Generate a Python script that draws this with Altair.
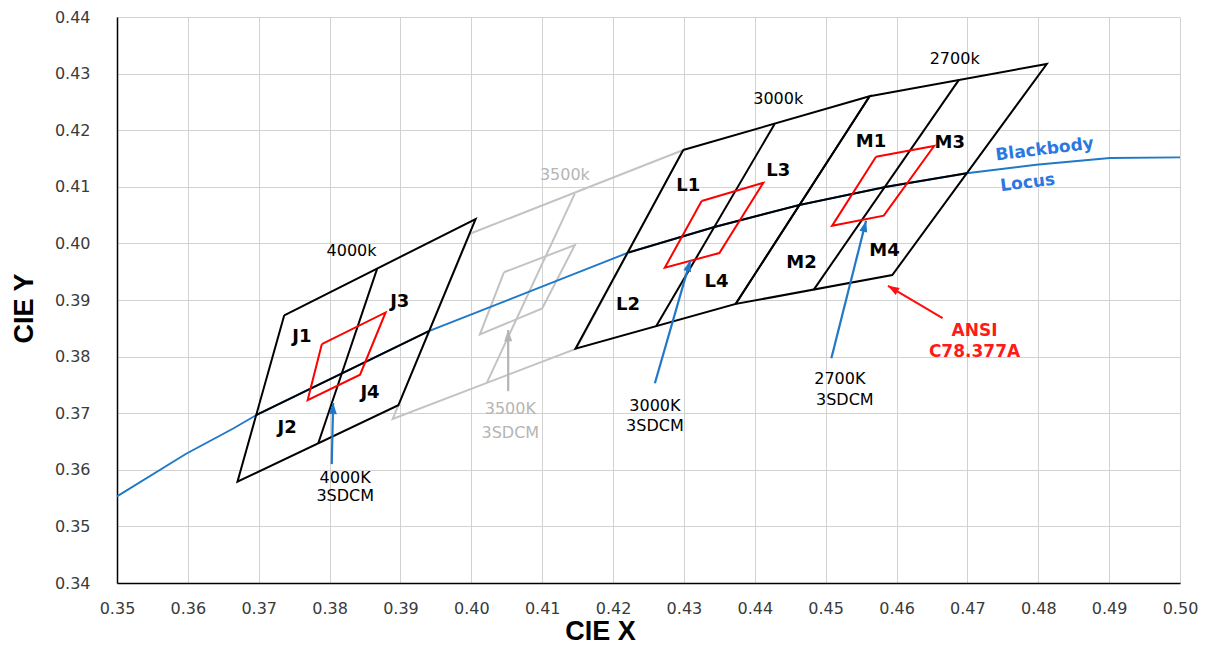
import math
import altair as alt
import pandas as pd

# ---------------- data ----------------
# Blackbody (Planckian) locus
locus_x = [0.3500, 0.3597, 0.3664, 0.3697, 0.3940, 0.4222, 0.4343, 0.4463, 0.4586, 0.4699, 0.4797, 0.4901, 0.5000]
locus_y = [0.3553, 0.3628, 0.3673, 0.3697, 0.3845, 0.3984, 0.4029, 0.4068, 0.4100, 0.4124, 0.4139, 0.4151, 0.4152]

# ANSI C78.377A quadrangles (corners: TL, TR, BR, BL)
quad_names = ["4000K", "3500K", "3000K", "2700K"]
quad_x = [[0.3736, 0.4006, 0.3897, 0.3670],
          [0.3998, 0.4299, 0.4148, 0.3889],
          [0.4299, 0.4562, 0.4373, 0.4147],
          [0.4562, 0.4812, 0.4594, 0.4373]]
quad_y = [[0.3873, 0.4043, 0.3714, 0.3579],
          [0.4017, 0.4165, 0.3814, 0.3690],
          [0.4165, 0.4260, 0.3893, 0.3814],
          [0.4260, 0.4317, 0.3944, 0.3893]]

# dividing line in each quadrangle (top point -> bottom point)
div_x_top = [0.3867, 0.4146, 0.4428, 0.4688]
div_y_top = [0.3955, 0.4088, 0.4211, 0.4289]
div_x_bot = [0.3784, 0.4022, 0.4261, 0.4483]
div_y_bot = [0.3647, 0.3754, 0.3854, 0.3918]

# centre line of each quadrangle (along the locus)
centre_x = [[0.3697, 0.3940], [0.3940, 0.4222], [0.4222, 0.4343, 0.4463], [0.4463, 0.4586, 0.4699]]
centre_y = [[0.3697, 0.3845], [0.3845, 0.3984], [0.3984, 0.4029, 0.4068], [0.4068, 0.4100, 0.4124]]

# 3SDCM quadrangles (TL, TR, BR, BL)
sdcm_x = [[0.3789, 0.3879, 0.3843, 0.3769],
          [0.4046, 0.4146, 0.4100, 0.4012],
          [0.4325, 0.4412, 0.4350, 0.4273],
          [0.4571, 0.4653, 0.4582, 0.4509]]
sdcm_y = [[0.3822, 0.3878, 0.3768, 0.3723],
          [0.3949, 0.3997, 0.3885, 0.3839],
          [0.4075, 0.4107, 0.3983, 0.3957],
          [0.4153, 0.4172, 0.4049, 0.4031]]

# arrows (tail -> head)
arrow_group = ["4000K", "3500K", "3000K", "2700K", "ANSI"]
arrow_x0 = [0.3803, 0.4052, 0.4259, 0.4508, 0.4665]
arrow_y0 = [0.3610, 0.3739, 0.3753, 0.3797, 0.3868]
arrow_x1 = [0.3805, 0.4052, 0.4309, 0.4557, 0.4588]
arrow_y1 = [0.3718, 0.3847, 0.3970, 0.4040, 0.3925]

# bin labels
bin_labels = ["J1", "J2", "J3", "J4", "L1", "L2", "L3", "L4", "M1", "M2", "M3", "M4"]
bin_x = [0.3761, 0.3740, 0.3899, 0.3857, 0.4306, 0.4221, 0.4433, 0.4346, 0.4564, 0.4466, 0.4675, 0.4583]
bin_y = [0.3835, 0.3673, 0.3897, 0.3736, 0.4102, 0.3892, 0.4128, 0.3932, 0.4180, 0.3965, 0.4177, 0.3987]

# CCT labels on the quadrangles
cct_labels = ["4000k", "3500k", "3000k", "2700k"]
cct_x = [0.3831, 0.4132, 0.4433, 0.4682]
cct_y = [0.3987, 0.4120, 0.4256, 0.4325]

# 3SDCM notes at the arrow tails
note_group = ["4000K", "4000K", "3500K", "3500K", "3000K", "3000K", "2700K", "2700K"]
note_text = ["4000K", "3SDCM", "3500K", "3SDCM", "3000K", "3SDCM", "2700K", "3SDCM"]
note_x = [0.3822, 0.3822, 0.4055, 0.4055, 0.4259, 0.4259, 0.4520, 0.4527]
note_y = [0.3585, 0.3553, 0.3707, 0.3665, 0.3713, 0.3678, 0.3761, 0.3723]

ansi_text = ["ANSI", "C78.377A"]
ansi_x = [0.4710, 0.4710]
ansi_y = [0.3845, 0.3808]

bb_text = ["Blackbody", "Locus"]
bb_x = [0.4809, 0.4785]
bb_y = [0.4166, 0.4107]

x_ticks = [0.35, 0.36, 0.37, 0.38, 0.39, 0.40, 0.41, 0.42, 0.43, 0.44, 0.45, 0.46, 0.47, 0.48, 0.49, 0.50]
y_ticks = [0.34, 0.35, 0.36, 0.37, 0.38, 0.39, 0.40, 0.41, 0.42, 0.43, 0.44]

# ---------------- build tables ----------------
W, H = 1063, 566
X_DOM = [0.35, 0.50]
Y_DOM = [0.34, 0.44]

rows = []


def add_poly(style, pid, xs, ys, closed=False):
    pts = list(zip(xs, ys))
    if closed:
        pts.append(pts[0])
    for i, (a, b) in enumerate(pts):
        rows.append(dict(style=style, pid=pid, ord=i, x=a, y=b))


for i, name in enumerate(quad_names):
    st = "gray" if name == "3500K" else "black"
    add_poly(st, f"q{name}", quad_x[i], quad_y[i], closed=True)
    add_poly(st, f"d{name}", [div_x_top[i], div_x_bot[i]], [div_y_top[i], div_y_bot[i]])
    if name != "3500K":
        add_poly("black", f"c{name}", centre_x[i], centre_y[i])
    add_poly("gray" if name == "3500K" else "red", f"s{name}", sdcm_x[i], sdcm_y[i], closed=True)
add_poly("locus", "locus", locus_x, locus_y)
lines = pd.DataFrame(rows)

kx = W / (X_DOM[1] - X_DOM[0])
ky = H / (Y_DOM[1] - Y_DOM[0])
arrows = pd.DataFrame(dict(g=arrow_group, x0=arrow_x0, y0=arrow_y0, x1=arrow_x1, y1=arrow_y1))
arrows["ang"] = [
    (math.degrees(math.atan2((b - a) * kx, (d - c) * ky)) + 360) % 360
    for a, b, c, d in zip(arrow_x0, arrow_x1, arrow_y0, arrow_y1)
]

bins = pd.DataFrame(dict(t=bin_labels, x=bin_x, y=bin_y))
ccts = pd.DataFrame(dict(t=cct_labels, x=cct_x, y=cct_y, g=quad_names))
notes = pd.DataFrame(dict(t=note_text, x=note_x, y=note_y, g=note_group))
ansi = pd.DataFrame(dict(t=ansi_text, x=ansi_x, y=ansi_y))
bb = pd.DataFrame(dict(t=bb_text, x=bb_x, y=bb_y))

# ---------------- encodings ----------------
xscale = alt.Scale(domain=X_DOM, nice=False, zero=False)
yscale = alt.Scale(domain=Y_DOM, nice=False, zero=False)

xaxis = alt.Axis(values=x_ticks, format=".2f", title="CIE X", grid=True,
                 gridColor="#d2d2d2", gridWidth=1, domainColor="#000000", domainWidth=1.5,
                 ticks=False, labelFont="DejaVu Sans", labelFontSize=16, labelColor="#3a3a3a",
                 labelPadding=17, labelFlush=False, titleFont="Liberation Sans", titleFontSize=27,
                 titleFontWeight="bold", titleColor="#000000", titleX=483, titleY=48,
                 titleBaseline="middle", titleAlign="center")
yaxis = alt.Axis(values=y_ticks, format=".2f", title="CIE Y", grid=True,
                 gridColor="#d2d2d2", gridWidth=1, domainColor="#000000", domainWidth=1.5,
                 ticks=False, labelFont="DejaVu Sans", labelFontSize=16, labelColor="#3a3a3a",
                 labelPadding=27, labelFlush=False, titleFont="Liberation Sans", titleFontSize=27,
                 titleFontWeight="bold", titleColor="#000000", titleX=-93, titleY=291,
                 titleAngle=270, titleBaseline="middle", titleAlign="center")


def X(f):
    return alt.X(f, type="quantitative", scale=xscale, axis=xaxis)


def Y(f):
    return alt.Y(f, type="quantitative", scale=yscale, axis=yaxis)


def line_layer(style, color, width):
    return (alt.Chart(lines)
            .transform_filter(alt.datum.style == style)
            .mark_line(color=color, strokeWidth=width)
            .encode(x=X("x"), y=Y("y"), detail="pid:N", order=alt.Order("ord:Q")))


arrow_color = alt.Color("g:N", legend=None,
                        scale=alt.Scale(domain=["4000K", "3500K", "3000K", "2700K", "ANSI"],
                                        range=["#1f78c8", "#b5b5b5", "#1f78c8", "#1f78c8", "#ff1010"]))

gray_lines = line_layer("gray", "#c3c3c3", 2)
locus = line_layer("locus", "#1f78c8", 1.9)
black_lines = line_layer("black", "#000000", 2)
red_lines = line_layer("red", "#ff0000", 2)

shafts = alt.Chart(arrows).mark_rule(strokeWidth=2.2).encode(
    x=X("x0"), y=Y("y0"), x2="x1", y2="y1", color=arrow_color)
heads = alt.Chart(arrows).mark_point(
    shape="M0,0L-1,2.8L1,2.8Z", size=64, filled=True, opacity=1).encode(
    x=X("x1"), y=Y("y1"), angle=alt.Angle("ang:Q", scale=None), color=arrow_color)

bin_text = alt.Chart(bins).mark_text(font="DejaVu Sans", fontSize=18, fontWeight="bold",
                                     color="#000000", baseline="middle").encode(
    x=X("x"), y=Y("y"), text="t:N")

cct_color = alt.Color("g:N", legend=None,
                      scale=alt.Scale(domain=["4000K", "3500K", "3000K", "2700K"],
                                      range=["#000000", "#b5b5b5", "#000000", "#000000"]))
cct_text = alt.Chart(ccts).mark_text(font="DejaVu Sans", fontSize=16, baseline="middle").encode(
    x=X("x"), y=Y("y"), text="t:N", color=cct_color)
note_text_l = alt.Chart(notes).mark_text(font="DejaVu Sans", fontSize=16, baseline="middle").encode(
    x=X("x"), y=Y("y"), text="t:N", color=cct_color)
ansi_text_l = alt.Chart(ansi).mark_text(font="DejaVu Sans", fontSize=17, fontWeight="bold",
                                        color="#ff1a1a", baseline="middle").encode(
    x=X("x"), y=Y("y"), text="t:N")
bb_text_l = alt.Chart(bb).mark_text(font="DejaVu Sans", fontSize=17, fontWeight="bold",
                                    color="#2a78e0", baseline="middle", angle=353).encode(
    x=X("x"), y=Y("y"), text="t:N")

chart = alt.layer(
    gray_lines, locus, black_lines, red_lines, shafts, heads,
    bin_text, cct_text, note_text_l, ansi_text_l, bb_text_l
).resolve_scale(color="independent").properties(
    width=W, height=H,
    autosize=alt.AutoSizeParams(type="none"),
    padding={"left": 109, "top": 9, "right": 20, "bottom": 62},
    background="#ffffff",
).configure_view(strokeWidth=0)

chart.save("out.html", embed_options={"renderer": "svg", "actions": False})
